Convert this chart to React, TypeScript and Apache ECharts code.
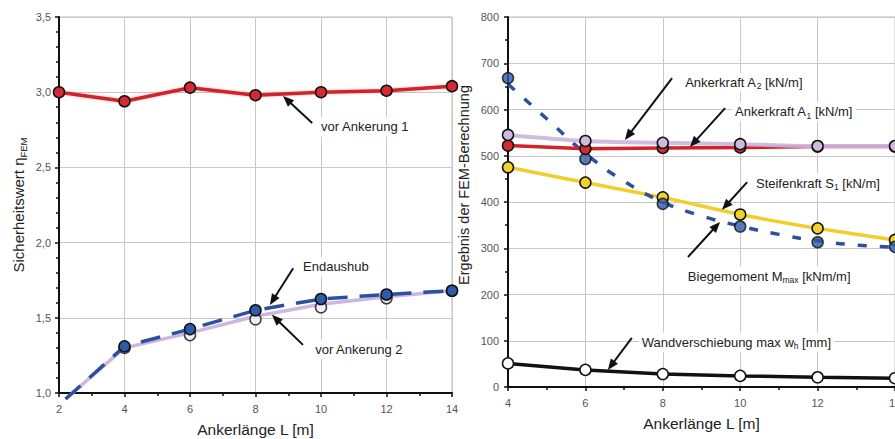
import React, { useEffect, useRef } from "react";
import * as echarts from "echarts";

// ---------- data ----------
// left chart: Sicherheitswert
const laengeLinks = [2, 4, 6, 8, 10, 12, 14];
const vorAnkerung1 = [3.0, 2.94, 3.03, 2.98, 3.0, 3.01, 3.04];
const laengeLinieLinks = [2.2, 4, 6, 8, 10, 12, 14];
const endaushub = [0.96, 1.31, 1.425, 1.55, 1.625, 1.655, 1.68];
const vorAnkerung2Linie = [0.96, 1.3, 1.4, 1.51, 1.59, 1.64, 1.68];
const laengePunkte = [4, 6, 8, 10, 12, 14];
const vorAnkerung2 = [1.3, 1.385, 1.49, 1.57, 1.63, 1.68];

// right chart: FEM results
const laengeRechts = [4, 6, 8, 10, 12, 14];
const ankerkraftA2 = [545, 532, 528, 525, 521, 521];
const ankerkraftA1 = [522, 515, 517, 518, 520, 520];
const steifenkraftS1 = [475, 442, 410, 373, 343, 318];
const biegemoment = [668, 493, 396, 347, 313, 303];
const biegeTrendL = [4, 5, 6, 7, 8, 9, 10, 11, 12, 13, 14];
const biegeTrend = [655, 580, 505, 445, 400, 370, 348, 330, 316, 307, 302];
const wandverschiebung = [51, 37, 28, 24, 21, 19];

// annotations (data coordinates of each grid)
const annotations = [
  { grid: 0, text: "{a|vor Ankerung 1}", head: [8.84, 2.975], tail: [9.73, 2.795], label: [9.91, 2.77] },
  { grid: 0, text: "{a|Endaushub}", head: [8.44, 1.585], tail: [9.15, 1.83], label: [9.36, 1.84] },
  { grid: 0, text: "{a|vor Ankerung 2}", head: [8.5, 1.52], tail: [9.45, 1.32], label: [9.73, 1.29] },
  { grid: 1, text: "{a|Ankerkraft A}{s|2}{a| [kN/m]}", head: [7.02, 534], tail: [8.24, 668], label: [8.5, 659] },
  { grid: 1, text: "{a|Ankerkraft A}{s|1}{a| [kN/m]}", head: [8.7, 519], tail: [9.61, 603], label: [9.79, 595] },
  { grid: 1, text: "{a|Steifenkraft S}{s|1}{a| [kN/m]}", head: [9.53, 383], tail: [10.18, 443], label: [10.33, 441] },
  { grid: 1, text: "{a|Biegemoment M}{s|max}{a| [kNm/m]}", head: [9.48, 357], tail: [8.65, 281], label: [8.57, 240] },
  { grid: 1, text: "{a|Wandverschiebung max w}{s|h}{a| [mm]}", head: [6.58, 37], tail: [7.2, 106], label: [7.38, 97] },
];

const FONT = "Liberation Sans, Arial, sans-serif";

const zip = (xs: number[], ys: number[]) => xs.map((x, i) => [x, ys[i]]);

const marker = (fill: string) => ({
  symbol: "circle",
  symbolSize: 11,
  itemStyle: { color: fill, borderColor: "#111", borderWidth: 1.5 },
});

function xAxisCfg(grid: number, min: number) {
  return {
    type: "value",
    gridIndex: grid,
    min,
    max: 14,
    interval: 2,
    name: "Ankerlänge L [m]",
    nameLocation: "middle",
    nameGap: 28,
    nameTextStyle: { fontFamily: FONT, fontSize: 15.5, color: "#222" },
    axisLine: { show: true, onZero: false, lineStyle: { color: "#111", width: 2 } },
    axisTick: { show: true, length: 4, lineStyle: { color: "#111", width: 1.5 } },
    minorTick: { show: true, splitNumber: 2, length: 3, lineStyle: { color: "#111", width: 1.5 } },
    splitLine: { show: true, lineStyle: { color: "#c8c8c8", width: 1 } },
    axisLabel: { fontFamily: FONT, fontSize: 11, color: "#555", margin: 10 },
  };
}

export default function App() {
  const ref = useRef<HTMLDivElement>(null);
  useEffect(() => {
    if (!ref.current) return;
    const chart = echarts.init(ref.current, null, { renderer: "svg" });
    const option: any = {
      animation: false,
      grid: [
        {
          left: 59, top: 17, width: 393, height: 376, show: true,
          borderColor: "#bdbdbd", borderWidth: 1, containLabel: false, outerBoundsMode: "none",
        },
        {
          left: 508, top: 17, width: 387, height: 370, show: true,
          borderColor: "#bdbdbd", borderWidth: 1, containLabel: false, outerBoundsMode: "none",
        },
      ],
      xAxis: [xAxisCfg(0, 2), xAxisCfg(1, 4)],
      yAxis: [
        {
          type: "value",
          gridIndex: 0,
          min: 1,
          max: 3.5,
          interval: 0.5,
          name: "{a|Sicherheitswert η}{s|FEM}",
          nameLocation: "middle",
          nameGap: 31,
          nameTextStyle: {
            rich: {
              a: { fontFamily: FONT, fontSize: 15, color: "#222", lineHeight: 20 },
              s: { fontFamily: FONT, fontSize: 9.5, color: "#222", verticalAlign: "bottom" },
            },
          },
          axisLine: { show: true, onZero: false, lineStyle: { color: "#111", width: 2 } },
          axisTick: { show: true, length: 4, lineStyle: { color: "#111", width: 1.5 } },
          minorTick: { show: true, splitNumber: 5, length: 3, lineStyle: { color: "#111", width: 1.5 } },
          splitLine: { show: true, lineStyle: { color: "#c8c8c8", width: 1 } },
          axisLabel: {
            fontFamily: FONT,
            fontSize: 11,
            color: "#555",
            margin: 8,
            formatter: (v: number) => v.toFixed(1).replace(".", ","),
          },
        },
        {
          type: "value",
          gridIndex: 1,
          min: 0,
          max: 800,
          interval: 100,
          name: "Ergebnis der FEM-Berechnung",
          nameLocation: "middle",
          nameGap: 37,
          nameTextStyle: { fontFamily: FONT, fontSize: 14.5, color: "#222", padding: [0, 0, 0, 34] },
          axisLine: { show: true, onZero: false, lineStyle: { color: "#111", width: 2 } },
          axisTick: { show: true, length: 4, lineStyle: { color: "#111", width: 1.5 } },
          minorTick: { show: true, splitNumber: 2, length: 3, lineStyle: { color: "#111", width: 1.5 } },
          splitLine: { show: true, lineStyle: { color: "#c8c8c8", width: 1 } },
          axisLabel: { fontFamily: FONT, fontSize: 11, color: "#555", margin: 9 },
        },
      ],
      series: [
        // ----- left -----
        {
          type: "line",
          xAxisIndex: 0,
          yAxisIndex: 0,
          data: zip(laengeLinks, vorAnkerung1),
          lineStyle: { color: "#d2232a", width: 3.5, shadowColor: "rgba(225,80,80,0.4)", shadowBlur: 3 },
          ...marker("#d42a33"),
          z: 3,
        },
        {
          type: "line",
          xAxisIndex: 0,
          yAxisIndex: 0,
          data: zip(laengeLinieLinks, vorAnkerung2Linie),
          showSymbol: false,
          symbol: "none",
          clip: false,
          lineStyle: { color: "#cbb8de", width: 3.5 },
          z: 2,
        },
        {
          type: "scatter",
          xAxisIndex: 0,
          yAxisIndex: 0,
          data: zip(laengePunkte, vorAnkerung2),
          ...marker("#f3eef5"),
          z: 3,
        },
        {
          type: "line",
          xAxisIndex: 0,
          yAxisIndex: 0,
          data: zip(laengeLinieLinks, endaushub).map((p, i) =>
            i === 0 ? { value: p, symbol: "none" } : p
          ),
          clip: false,
          lineStyle: { color: "#2c4f9e", width: 3.5, type: [20, 12] },
          ...marker("#2e5aa8"),
          z: 4,
        },
        // ----- right -----
        {
          type: "line",
          xAxisIndex: 1,
          yAxisIndex: 1,
          data: zip(laengeRechts, steifenkraftS1),
          smooth: 0.2,
          lineStyle: { color: "#f2cd2b", width: 3.5 },
          ...marker("#f4d22e"),
          z: 3,
        },
        {
          type: "line",
          xAxisIndex: 1,
          yAxisIndex: 1,
          data: zip(biegeTrendL, biegeTrend),
          smooth: true,
          symbol: "none",
          lineStyle: { color: "#2c4f9e", width: 3.5, type: [9, 13] },
          z: 4,
        },
        {
          type: "scatter",
          xAxisIndex: 1,
          yAxisIndex: 1,
          data: zip(laengeRechts, biegemoment),
          ...marker("#2e5aa8"),
          z: 4,
        },
        {
          type: "line",
          xAxisIndex: 1,
          yAxisIndex: 1,
          data: zip(laengeRechts, ankerkraftA1),
          lineStyle: { color: "#d2232a", width: 3.5 },
          ...marker("#d42a33"),
          z: 5,
        },
        {
          type: "line",
          xAxisIndex: 1,
          yAxisIndex: 1,
          data: zip(laengeRechts, ankerkraftA2),
          smooth: 0.3,
          lineStyle: { color: "#c9b6dd", width: 4, opacity: 0.9 },
          ...marker("#cbbbdd"),
          z: 6,
        },
        {
          type: "line",
          xAxisIndex: 1,
          yAxisIndex: 1,
          data: zip(laengeRechts, wandverschiebung),
          lineStyle: { color: "#111", width: 3.5 },
          ...marker("#ffffff"),
          z: 6,
        },
      ],
    };
    chart.setOption(option);

    // annotations: arrows + labels, placed through the axes' own scales
    const graphic: any[] = [];
    annotations.forEach((a) => {
      const finder = { xAxisIndex: a.grid, yAxisIndex: a.grid };
      const h = chart.convertToPixel(finder, a.head) as number[];
      const t = chart.convertToPixel(finder, a.tail) as number[];
      const l = chart.convertToPixel(finder, a.label) as number[];
      const dx = h[0] - t[0];
      const dy = h[1] - t[1];
      const len = Math.sqrt(dx * dx + dy * dy) || 1;
      const ux = dx / len;
      const uy = dy / len;
      const hl = 11;
      const hw = 4.5;
      const bx = h[0] - ux * hl;
      const by = h[1] - uy * hl;
      graphic.push({
        type: "text",
        z: 100,
        style: {
          text: a.text,
          x: l[0],
          y: l[1],
          align: "left",
          verticalAlign: "middle",
          backgroundColor: "#ffffff",
          padding: [1, 3, 1, 3],
          rich: {
            a: { fontFamily: FONT, fontSize: 13, fill: "#222", lineHeight: 17 },
            s: { fontFamily: FONT, fontSize: 8.5, fill: "#222", verticalAlign: "bottom" },
          },
        },
      });
      graphic.push({
        type: "line",
        z: 101,
        shape: { x1: t[0], y1: t[1], x2: bx + ux * 1, y2: by + uy * 1 },
        style: { stroke: "#111", lineWidth: 2 },
      });
      graphic.push({
        type: "polygon",
        z: 101,
        shape: {
          points: [
            [h[0], h[1]],
            [bx - uy * hw, by + ux * hw],
            [bx + uy * hw, by - ux * hw],
          ],
        },
        style: { fill: "#111" },
      });
    });
    chart.setOption({ graphic });

    return () => chart.dispose();
  }, []);

  return (
    <div
      ref={ref}
      style={{ position: "fixed", left: 0, top: 0, width: 895, height: 439, background: "#fff" }}
    />
  );
}
